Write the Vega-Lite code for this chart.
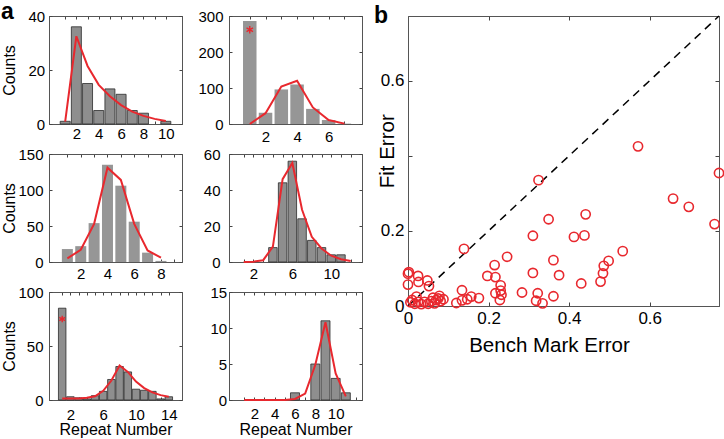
{
  "$schema": "https://vega.github.io/schema/vega-lite/v6.json",
  "background": "white",
  "padding": {"left": 0, "top": 0, "right": 0, "bottom": 0},
  "config": {
    "font": "Liberation Sans",
    "view": {"stroke": "#555", "strokeWidth": 1},
    "axis": {
      "labelFont": "Liberation Sans", "titleFont": "Liberation Sans",
      "labelColor": "#000", "titleColor": "#000",
      "labelFontSize": 15, "titleFontSize": 16, "titleFontWeight": "normal",
      "grid": false, "labelFlush": false, "labelOverlap": false
    },
    "title": {"font": "Liberation Sans", "fontSize": 23, "fontWeight": "bold", "anchor": "start", "frame": "group", "offset": 0, "baseline": "alphabetic", "color": "#000"}
  },
  "datasets": {
    "p1bars": [{"n":1,"c":1},{"n":2,"c":36},{"n":3,"c":15},{"n":4,"c":5},{"n":5,"c":13},{"n":6,"c":11},{"n":7,"c":5},{"n":8,"c":4},{"n":10,"c":1}],
    "p1fit": [{"n":1,"f":0.9},{"n":2,"f":32.5},{"n":3,"f":21.5},{"n":4,"f":14.5},{"n":5,"f":10.3},{"n":6,"f":7},{"n":7,"f":4.6},{"n":8,"f":3},{"n":9,"f":1.9},{"n":10,"f":1.1}],
    "p2bars": [{"n":1,"c":286},{"n":2,"c":31},{"n":3,"c":96},{"n":4,"c":110},{"n":5,"c":42},{"n":6,"c":11},{"n":7,"c":1}],
    "p2fit": [{"n":1,"f":0},{"n":2,"f":30},{"n":3,"f":104},{"n":4,"f":120},{"n":5,"f":46},{"n":6,"f":11},{"n":7,"f":1}],
    "p2star": [{"n":1,"c":262}],
    "p3bars": [{"n":1,"c":18},{"n":2,"c":22},{"n":3,"c":54},{"n":4,"c":135},{"n":5,"c":106},{"n":6,"c":56},{"n":7,"c":13},{"n":8,"c":1.5}],
    "p3fit": [{"n":1,"f":5},{"n":2,"f":17},{"n":3,"f":53},{"n":4,"f":131},{"n":5,"f":114},{"n":6,"f":53},{"n":7,"f":16},{"n":8,"f":6}],
    "p4bars": [{"n":4,"c":8},{"n":5,"c":44},{"n":6,"c":56},{"n":7,"c":24},{"n":8,"c":12},{"n":9,"c":8},{"n":10,"c":4},{"n":11,"c":4}],
    "p4fit": [{"n":1,"f":0},{"n":2,"f":0.2},{"n":3,"f":1},{"n":4,"f":8.5},{"n":5,"f":46},{"n":6,"f":55},{"n":7,"f":29},{"n":8,"f":14},{"n":9,"f":7.5},{"n":10,"f":3.5},{"n":11,"f":1.5},{"n":12,"f":0.5}],
    "p5bars": [{"n":1,"c":85},{"n":2,"c":3},{"n":3,"c":2},{"n":4,"c":1},{"n":5,"c":4},{"n":6,"c":8},{"n":7,"c":19},{"n":8,"c":31},{"n":9,"c":26},{"n":10,"c":10},{"n":11,"c":9},{"n":12,"c":8},{"n":13,"c":1},{"n":14,"c":3}],
    "p5fit": [{"n":1,"f":1.5},{"n":2,"f":1.5},{"n":3,"f":1.5},{"n":4,"f":2},{"n":5,"f":3.5},{"n":6,"f":8.5},{"n":7,"f":18},{"n":8,"f":32},{"n":9,"f":26},{"n":10,"f":17},{"n":11,"f":11},{"n":12,"f":7},{"n":13,"f":4.5},{"n":14,"f":3}],
    "p5star": [{"n":1,"c":75}],
    "p6bars": [{"n":6,"c":1},{"n":8,"c":5},{"n":9,"c":11},{"n":10,"c":3},{"n":11,"c":1}],
    "p6fit": [{"n":1,"f":0},{"n":2,"f":0},{"n":3,"f":0},{"n":4,"f":0},{"n":5,"f":0},{"n":6,"f":0.15},{"n":7,"f":0.9},{"n":8,"f":4.9},{"n":9,"f":10.8},{"n":10,"f":3.7},{"n":11,"f":0.5}],
    "diag": [{"bx":0,"fy":0},{"bx":0.772,"fy":0.772}],
    "errs": [
      {"bx":0.571,"fy":0.425},{"bx":0.324,"fy":0.335},{"bx":0.772,"fy":0.354},{"bx":0.658,"fy":0.286},{"bx":0.697,"fy":0.264},
      {"bx":0.349,"fy":0.231},{"bx":0.441,"fy":0.244},{"bx":0.761,"fy":0.218},{"bx":0.310,"fy":0.187},{"bx":0.412,"fy":0.184},
      {"bx":0.438,"fy":0.188},{"bx":0.139,"fy":0.152},{"bx":0.246,"fy":0.131},{"bx":0.533,"fy":0.146},{"bx":0.361,"fy":0.122},
      {"bx":0.215,"fy":0.109},{"bx":0.498,"fy":0.120},{"bx":0.486,"fy":0.107},{"bx":0.310,"fy":0.088},{"bx":0.375,"fy":0.082},
      {"bx":0.484,"fy":0.087},{"bx":0.197,"fy":0.080},{"bx":0.217,"fy":0.077},{"bx":0.430,"fy":0.060},{"bx":0.478,"fy":0.065},
      {"bx":0.230,"fy":0.055},{"bx":0.230,"fy":0.041},{"bx":0.217,"fy":0.034},{"bx":0.228,"fy":0.016},{"bx":0.283,"fy":0.036},
      {"bx":0.322,"fy":0.034},{"bx":0.318,"fy":0.014},{"bx":0.334,"fy":0.007},{"bx":0.361,"fy":0.026},{"bx":0.134,"fy":0.042},
      {"bx":0.176,"fy":0.021},{"bx":0.157,"fy":0.025},{"bx":0.147,"fy":0.018},{"bx":0.134,"fy":0.015},{"bx":0.120,"fy":0.008},
      {"bx":0.0,"fy":0.086},{"bx":0.0,"fy":0.057},{"bx":0.025,"fy":0.080},{"bx":0.026,"fy":0.064},{"bx":0.048,"fy":0.068},
      {"bx":0.052,"fy":0.053},{"bx":0.021,"fy":0.025},{"bx":0.006,"fy":0.010},{"bx":0.025,"fy":0.011},{"bx":0.041,"fy":0.011},
      {"bx":0.058,"fy":0.013},{"bx":0.070,"fy":0.016},{"bx":0.078,"fy":0.027},{"bx":0.081,"fy":0.013},{"bx":0.066,"fy":0.007},
      {"bx":0.017,"fy":0.006},{"bx":0.033,"fy":0.005},{"bx":0.050,"fy":0.006},{"bx":0.075,"fy":0.020},{"bx":0.088,"fy":0.018},
      {"bx":0.232,"fy":0.030},{"bx":0.010,"fy":0.016},{"bx":0.062,"fy":0.022},{"bx":0.002,"fy":0.090}
    ]
  },
  "spacing": 10,
  "hconcat": [
    {
      "columns": 2,
      "bounds": "flush",
      "spacing": {"row": 30, "column": 47},
      "concat": [
        {
          "width": 133, "height": 108,
          "title": {"text": "a", "dx": -48, "dy": 19},
          "layer": [
            {"data": {"name": "p1bars"}, "mark": {"type": "bar", "orient": "vertical", "width": 10, "fill": "#8e8e8e", "stroke": "#2b2b2b", "strokeWidth": 0.8},
             "encoding": {
               "x": {"field": "n", "type": "quantitative", "scale": {"domain": [0, 11], "nice": false, "zero": false}, "axis": {"domain": true, "domainColor": "#555", "ticks": true, "tickColor": "#444", "tickSize": -3, "values": [1,2,3,4,5,6,7,8,9,10], "labelExpr": "datum.value % 2 == 0 ? datum.label : ''", "title": null, "labelPadding": 5.5}},
               "y": {"field": "c", "type": "quantitative", "scale": {"domain": [0, 40], "nice": false}, "axis": {"domain": true, "domainColor": "#555", "ticks": true, "tickColor": "#444", "tickSize": -3, "values": [0, 20, 40], "title": "Counts", "titleX": -34.3, "titleBaseline": "alphabetic", "labelPadding": 7.3}}}},
            {"data": {"name": "p1fit"}, "mark": {"type": "line", "color": "#e8282e", "strokeWidth": 2},
             "encoding": {
               "x": {"field": "n", "type": "quantitative", "scale": {"domain": [0, 11], "nice": false, "zero": false}, "axis": {"orient": "top", "domain": true, "domainColor": "#555", "ticks": true, "tickColor": "#444", "tickSize": -3, "values": [1,2,3,4,5,6,7,8,9,10], "labels": false, "title": null}},
               "y": {"field": "f", "type": "quantitative", "scale": {"domain": [0, 40], "nice": false}, "axis": {"orient": "right", "domain": true, "domainColor": "#555", "ticks": true, "tickColor": "#444", "tickSize": -3, "values": [0, 20, 40], "labels": false, "title": null}}}}
          ],
          "resolve": {"axis": {"x": "independent", "y": "independent"}}
        },
        {
          "width": 133, "height": 108,
          "layer": [
            {"data": {"name": "p2bars"}, "mark": {"type": "bar", "orient": "vertical", "width": 13.5, "fill": "#969696"},
             "encoding": {
               "x": {"field": "n", "type": "quantitative", "scale": {"domain": [0, 7.8], "nice": false, "zero": false}, "axis": {"domain": true, "domainColor": "#555", "ticks": true, "tickColor": "#444", "tickSize": -3, "values": [1,2,3,4,5,6,7], "labelExpr": "datum.value % 2 == 0 ? datum.label : ''", "title": null, "labelPadding": 8.5}},
               "y": {"field": "c", "type": "quantitative", "scale": {"domain": [0, 300], "nice": false}, "axis": {"domain": true, "domainColor": "#555", "ticks": true, "tickColor": "#444", "tickSize": -3, "values": [0, 100, 200, 300], "title": null, "labelPadding": 9}}}},
            {"data": {"name": "p2fit"}, "mark": {"type": "line", "color": "#e8282e", "strokeWidth": 2},
             "encoding": {
               "x": {"field": "n", "type": "quantitative", "scale": {"domain": [0, 7.8], "nice": false, "zero": false}, "axis": {"orient": "top", "domain": true, "domainColor": "#555", "ticks": true, "tickColor": "#444", "tickSize": -3, "values": [1,2,3,4,5,6,7], "labels": false, "title": null}},
               "y": {"field": "f", "type": "quantitative", "scale": {"domain": [0, 300], "nice": false}, "axis": {"orient": "right", "domain": true, "domainColor": "#555", "ticks": true, "tickColor": "#444", "tickSize": -3, "values": [0, 100, 200, 300], "labels": false, "title": null}}}},
            {"data": {"name": "p2star"}, "mark": {"type": "point", "shape": "M0,-1L0,1M-0.87,-0.5L0.87,0.5M-0.87,0.5L0.87,-0.5", "filled": false, "stroke": "#e8282e", "strokeWidth": 1.4, "size": 55, "opacity": 1},
             "encoding": {
               "x": {"field": "n", "type": "quantitative", "axis": null},
               "y": {"field": "c", "type": "quantitative", "axis": null}}}
          ],
          "resolve": {"axis": {"x": "independent", "y": "independent"}}
        },
        {
          "width": 133, "height": 108,
          "layer": [
            {"data": {"name": "p3bars"}, "mark": {"type": "bar", "orient": "vertical", "width": 11, "fill": "#969696"},
             "encoding": {
               "x": {"field": "n", "type": "quantitative", "scale": {"domain": [0, 9.2], "nice": false, "zero": false}, "axis": {"domain": true, "domainColor": "#555", "ticks": true, "tickColor": "#444", "tickSize": -3, "values": [1,2,3,4,5,6,7,8,9], "labelExpr": "datum.value % 2 == 0 ? datum.label : ''", "title": null, "labelPadding": 7.6}},
               "y": {"field": "c", "type": "quantitative", "scale": {"domain": [0, 150], "nice": false}, "axis": {"domain": true, "domainColor": "#555", "ticks": true, "tickColor": "#444", "tickSize": -3, "values": [0, 50, 100, 150], "title": "Counts", "titleX": -34.3, "titleBaseline": "alphabetic", "labelPadding": 9}}}},
            {"data": {"name": "p3fit"}, "mark": {"type": "line", "color": "#e8282e", "strokeWidth": 2},
             "encoding": {
               "x": {"field": "n", "type": "quantitative", "scale": {"domain": [0, 9.2], "nice": false, "zero": false}, "axis": {"orient": "top", "domain": true, "domainColor": "#555", "ticks": true, "tickColor": "#444", "tickSize": -3, "values": [1,2,3,4,5,6,7,8,9], "labels": false, "title": null}},
               "y": {"field": "f", "type": "quantitative", "scale": {"domain": [0, 150], "nice": false}, "axis": {"orient": "right", "domain": true, "domainColor": "#555", "ticks": true, "tickColor": "#444", "tickSize": -3, "values": [0, 50, 100, 150], "labels": false, "title": null}}}}
          ],
          "resolve": {"axis": {"x": "independent", "y": "independent"}}
        },
        {
          "width": 133, "height": 108,
          "layer": [
            {"data": {"name": "p4bars"}, "mark": {"type": "bar", "orient": "vertical", "width": 8.5, "fill": "#8e8e8e", "stroke": "#2b2b2b", "strokeWidth": 0.8},
             "encoding": {
               "x": {"field": "n", "type": "quantitative", "scale": {"domain": [0, 12.65], "nice": false, "zero": false}, "axis": {"domain": true, "domainColor": "#555", "ticks": true, "tickColor": "#444", "tickSize": -3, "values": [1,2,3,4,5,6,7,8,9,10,11,12], "labelExpr": "(datum.value - 2) % 4 == 0 ? datum.label : ''", "title": null, "labelPadding": 7.9}},
               "y": {"field": "c", "type": "quantitative", "scale": {"domain": [0, 60], "nice": false}, "axis": {"domain": true, "domainColor": "#555", "ticks": true, "tickColor": "#444", "tickSize": -3, "values": [0, 20, 40, 60], "title": null, "labelPadding": 12}}}},
            {"data": {"name": "p4fit"}, "mark": {"type": "line", "color": "#e8282e", "strokeWidth": 2},
             "encoding": {
               "x": {"field": "n", "type": "quantitative", "scale": {"domain": [0, 12.65], "nice": false, "zero": false}, "axis": {"orient": "top", "domain": true, "domainColor": "#555", "ticks": true, "tickColor": "#444", "tickSize": -3, "values": [1,2,3,4,5,6,7,8,9,10,11,12], "labels": false, "title": null}},
               "y": {"field": "f", "type": "quantitative", "scale": {"domain": [0, 60], "nice": false}, "axis": {"orient": "right", "domain": true, "domainColor": "#555", "ticks": true, "tickColor": "#444", "tickSize": -3, "values": [0, 20, 40, 60], "labels": false, "title": null}}}}
          ],
          "resolve": {"axis": {"x": "independent", "y": "independent"}}
        },
        {
          "width": 133, "height": 108,
          "layer": [
            {"data": {"name": "p5bars"}, "mark": {"type": "bar", "orient": "vertical", "width": 7.5, "fill": "#8e8e8e", "stroke": "#2b2b2b", "strokeWidth": 0.8},
             "encoding": {
               "x": {"field": "n", "type": "quantitative", "scale": {"domain": [0, 15], "nice": false, "zero": false}, "axis": {"domain": true, "domainColor": "#555", "ticks": true, "tickColor": "#444", "tickSize": -3, "values": [1,2,3,4,5,6,7,8,9,10,11,12,13,14], "labelExpr": "(datum.value - 2) % 4 == 0 ? datum.label : ''", "title": "Repeat Number", "titleY": 34.5, "titleBaseline": "alphabetic", "labelPadding": 10.4}},
               "y": {"field": "c", "type": "quantitative", "scale": {"domain": [0, 100], "nice": false}, "axis": {"domain": true, "domainColor": "#555", "ticks": true, "tickColor": "#444", "tickSize": -3, "values": [0, 50, 100], "title": "Counts", "titleX": -34.3, "titleBaseline": "alphabetic", "labelPadding": 9}}}},
            {"data": {"name": "p5fit"}, "mark": {"type": "line", "color": "#e8282e", "strokeWidth": 2},
             "encoding": {
               "x": {"field": "n", "type": "quantitative", "scale": {"domain": [0, 15], "nice": false, "zero": false}, "axis": {"orient": "top", "domain": true, "domainColor": "#555", "ticks": true, "tickColor": "#444", "tickSize": -3, "values": [1,2,3,4,5,6,7,8,9,10,11,12,13,14], "labels": false, "title": null}},
               "y": {"field": "f", "type": "quantitative", "scale": {"domain": [0, 100], "nice": false}, "axis": {"orient": "right", "domain": true, "domainColor": "#555", "ticks": true, "tickColor": "#444", "tickSize": -3, "values": [0, 50, 100], "labels": false, "title": null}}}},
            {"data": {"name": "p5star"}, "mark": {"type": "point", "shape": "M0,-1L0,1M-0.87,-0.5L0.87,0.5M-0.87,0.5L0.87,-0.5", "filled": false, "stroke": "#e8282e", "strokeWidth": 1.4, "size": 45, "opacity": 1},
             "encoding": {
               "x": {"field": "n", "type": "quantitative", "axis": null},
               "y": {"field": "c", "type": "quantitative", "axis": null}}}
          ],
          "resolve": {"axis": {"x": "independent", "y": "independent"}}
        },
        {
          "width": 133, "height": 108,
          "layer": [
            {"data": {"name": "p6bars"}, "mark": {"type": "bar", "orient": "vertical", "width": 9, "fill": "#8e8e8e", "stroke": "#2b2b2b", "strokeWidth": 0.8},
             "encoding": {
               "x": {"field": "n", "type": "quantitative", "scale": {"domain": [0, 12.1], "nice": false, "zero": false}, "axis": {"domain": true, "domainColor": "#555", "ticks": true, "tickColor": "#444", "tickSize": -3, "values": [1,2,3,4,5,6,7,8,9,10,11,12], "labelExpr": "datum.value % 2 == 0 && datum.value <= 10 ? datum.label : ''", "title": "Repeat Number", "titleY": 34.5, "titleBaseline": "alphabetic", "labelPadding": 9}},
               "y": {"field": "c", "type": "quantitative", "scale": {"domain": [0, 15], "nice": false}, "axis": {"domain": true, "domainColor": "#555", "ticks": true, "tickColor": "#444", "tickSize": -3, "values": [0, 5, 10, 15], "title": null, "labelPadding": 5.3}}}},
            {"data": {"name": "p6fit"}, "mark": {"type": "line", "color": "#e8282e", "strokeWidth": 2},
             "encoding": {
               "x": {"field": "n", "type": "quantitative", "scale": {"domain": [0, 12.1], "nice": false, "zero": false}, "axis": {"orient": "top", "domain": true, "domainColor": "#555", "ticks": true, "tickColor": "#444", "tickSize": -3, "values": [1,2,3,4,5,6,7,8,9,10,11,12], "labels": false, "title": null}},
               "y": {"field": "f", "type": "quantitative", "scale": {"domain": [0, 15], "nice": false}, "axis": {"orient": "right", "domain": true, "domainColor": "#555", "ticks": true, "tickColor": "#444", "tickSize": -3, "values": [0, 5, 10, 15], "labels": false, "title": null}}}}
          ],
          "resolve": {"axis": {"x": "independent", "y": "independent"}}
        }
      ]
    },
    {
      "width": 311, "height": 290,
      "title": {"text": "b", "dx": -34, "dy": 19},
      "layer": [
        {"data": {"name": "diag"}, "mark": {"type": "line", "color": "#000", "strokeWidth": 1.5, "strokeDash": [8, 6]},
         "encoding": {
           "x": {"field": "bx", "type": "quantitative", "scale": {"domain": [0, 0.772], "nice": false}, "axis": {"domain": true, "domainColor": "#555", "ticks": true, "tickColor": "#444", "tickSize": -4, "values": [0, 0.2, 0.4, 0.6], "format": "~g", "title": "Bench Mark Error", "titleFontSize": 20.5, "labelFontSize": 17, "titleX": 141, "titleY": 45.7, "titleBaseline": "alphabetic", "labelPadding": 8.5}},
           "y": {"field": "fy", "type": "quantitative", "scale": {"domain": [0, 0.772], "nice": false}, "axis": {"domain": true, "domainColor": "#555", "ticks": true, "tickColor": "#444", "tickSize": -4, "values": [0, 0.2, 0.4, 0.6], "format": "~g", "labelExpr": "datum.value == 0.4 ? '' : datum.label", "title": "Fit Error", "titleFontSize": 20.5, "labelFontSize": 17, "titleX": -14.2, "titleY": 134.8, "titleBaseline": "alphabetic", "labelPadding": 8}}}},
        {"data": {"name": "errs"}, "mark": {"type": "point", "shape": "circle", "filled": false, "stroke": "#e8282e", "strokeWidth": 1.6, "size": 85, "opacity": 1},
         "encoding": {
           "x": {"field": "bx", "type": "quantitative", "scale": {"domain": [0, 0.772], "nice": false}, "axis": {"orient": "top", "domain": true, "domainColor": "#555", "ticks": true, "tickColor": "#444", "tickSize": -4, "values": [0.2, 0.4, 0.6], "labels": false, "title": null}},
           "y": {"field": "fy", "type": "quantitative", "scale": {"domain": [0, 0.772], "nice": false}, "axis": {"orient": "right", "domain": true, "domainColor": "#555", "ticks": true, "tickColor": "#444", "tickSize": -4, "values": [0.2, 0.4, 0.6], "labels": false, "title": null}}}}
      ],
      "resolve": {"axis": {"x": "independent", "y": "independent"}}
    }
  ]
}
